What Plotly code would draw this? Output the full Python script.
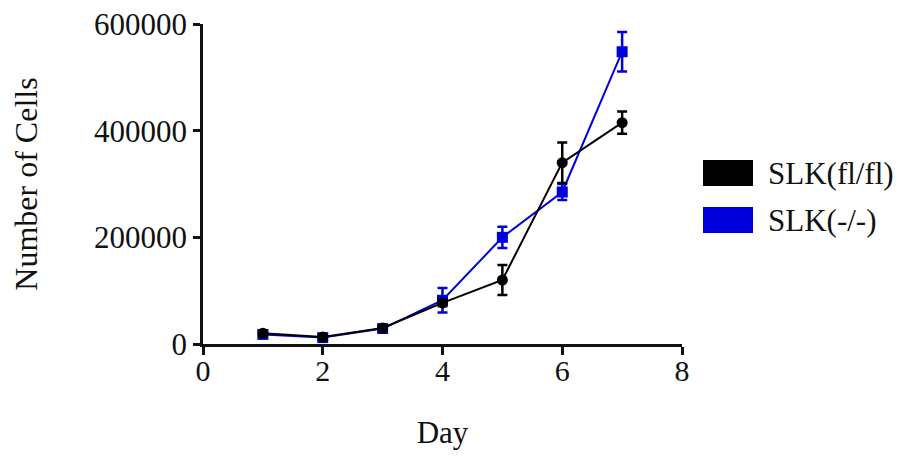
import plotly.graph_objects as go

days = [1, 2, 3, 4, 5, 6, 7]
fl_vals = [20000, 13000, 30000, 77000, 120000, 340000, 415000]
fl_err = [5000, 4000, 4000, 6000, 28000, 38000, 21000]
ko_vals = [18000, 12000, 29000, 82000, 200000, 285000, 548000]
ko_err = [4000, 3000, 3000, 23000, 20000, 15000, 37000]
names = ["SLK(fl/fl)", "SLK(-/-)"]
colors = ["#000000", "#0000dd"]

FONT = "Liberation Serif, Times New Roman, serif"
# page has an 8px body margin; figure coordinates are page minus 8
OFF = 8
FW, FH = 909 - OFF, 458 - OFF
L, R, T, B = 203 - OFF, 682 - OFF, 24 - OFF, 344 - OFF
PW, PH = R - L, B - T

fig = go.Figure()
fig.add_trace(go.Scatter(
    x=days, y=ko_vals, mode="lines+markers", name=names[1],
    line=dict(color=colors[1], width=2),
    marker=dict(symbol="square", size=11, color=colors[1]),
    error_y=dict(type="data", array=ko_err, color=colors[1], thickness=2.5, width=5),
    showlegend=False))
fig.add_trace(go.Scatter(
    x=days, y=fl_vals, mode="lines+markers", name=names[0],
    line=dict(color=colors[0], width=2),
    marker=dict(symbol="circle", size=11, color=colors[0]),
    error_y=dict(type="data", array=fl_err, color=colors[0], thickness=2.5, width=5),
    showlegend=False))

# manual legend (page coordinates converted to paper fractions)
box_tops = [160, 207]
for i, (nm, c) in enumerate(zip(names, colors)):
    y0 = box_tops[i] - OFF
    fig.add_shape(type="rect", xref="paper", yref="paper",
                  x0=(703 - OFF - L) / PW, x1=(753 - OFF - L) / PW,
                  y0=(B - (y0 + 26)) / PH, y1=(B - y0) / PH,
                  fillcolor=c, line=dict(width=0))
    fig.add_annotation(xref="paper", yref="paper",
                       x=(766 - OFF - L) / PW, y=(B - (y0 + 13)) / PH,
                       text=nm, showarrow=False, xanchor="left", yanchor="middle",
                       font=dict(family=FONT, size=31, color="#111"))

fig.update_layout(
    width=FW, height=FH,
    margin=dict(l=L, r=FW - R, t=T, b=FH - B),
    paper_bgcolor="white", plot_bgcolor="white",
    font=dict(family=FONT, size=30, color="#111"),
)
fig.update_xaxes(range=[0, 8], tickvals=[0, 2, 4, 6, 8], showgrid=False, zeroline=False,
                 showline=True, linecolor="#111", linewidth=2.5, automargin=False,
                 ticks="outside", ticklen=8, tickwidth=2.5, tickcolor="#111",
                 tickfont=dict(size=30), ticklabelstandoff=-10, ticklabeloverflow="allow",
                 title=dict(text="Day", standoff=36, font=dict(size=31)))
fig.update_yaxes(range=[0, 600000], tickvals=[0, 200000, 400000, 600000],
                 tickformat="d", showgrid=False, zeroline=False,
                 showline=True, linecolor="#111", linewidth=2.5, automargin=False,
                 ticks="outside", ticklen=7, tickwidth=2.5, tickcolor="#111",
                 tickfont=dict(size=31), ticklabeloverflow="allow",
                 title=dict(text="Number of Cells", standoff=50, font=dict(size=32)))

fig.write_html("out.html")
